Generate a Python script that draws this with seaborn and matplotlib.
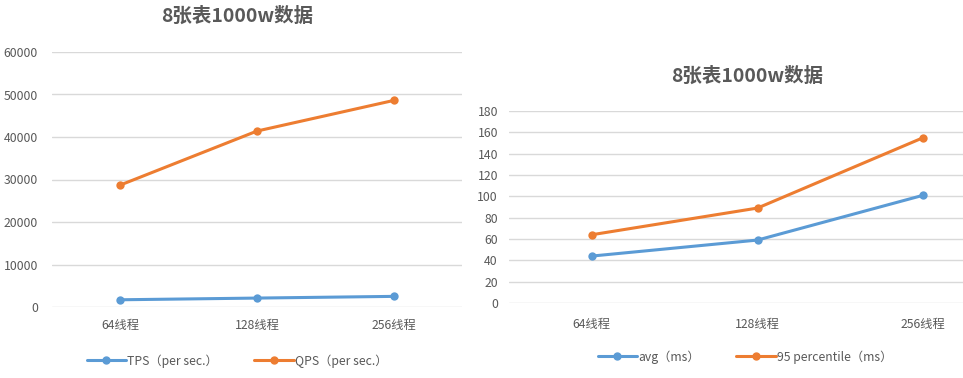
import pandas as pd
import matplotlib
matplotlib.use('Agg')
import matplotlib.pyplot as plt
import seaborn as sns

# data
threads = ['64线程', '128线程', '256线程']
tps = [1700, 2100, 2500]
qps = [28700, 41400, 48600]
lat_avg = [44, 59, 101]
lat_p95 = [64, 89, 155]

title = '8张表1000w数据'
labels_left = ['TPS（per sec.）', 'QPS（per sec.）']
labels_right = ['avg（ms）', '95 percentile（ms）']

blue = '#5B9BD5'
orange = '#ED7D31'
grey = '#595959'

sns.set_style('white')
plt.rcParams['font.family'] = ['Noto Sans CJK SC', 'DejaVu Sans']

df_left = pd.DataFrame({
    'pos': list(range(len(threads))) * 2,
    'value': tps + qps,
    'series': [labels_left[0]] * 3 + [labels_left[1]] * 3,
})
df_right = pd.DataFrame({
    'pos': list(range(len(threads))) * 2,
    'value': lat_avg + lat_p95,
    'series': [labels_right[0]] * 3 + [labels_right[1]] * 3,
})

fig = plt.figure(figsize=(9.63, 3.78), dpi=100)
ax1 = fig.add_axes([52 / 963, 71 / 378, 410 / 963, 255 / 378])
ax2 = fig.add_axes([509 / 963, 75 / 378, 497 / 963, 192 / 378])


def draw(ax, df, labels, ymax, step, legend_xy, ypad, xpad):
    sns.lineplot(data=df, x='pos', y='value', hue='series', hue_order=labels,
                 palette=[blue, orange], marker='o', markersize=6,
                 markeredgewidth=0, linewidth=2.2, ax=ax, legend=False)
    ax.set_xlim(-0.5, 2.5)
    ax.set_ylim(0, ymax)
    ax.set_yticks(range(0, ymax + 1, step))
    ax.set_xticks(range(len(threads)))
    ax.set_xticklabels(threads)
    ax.set_xlabel('')
    ax.set_ylabel('')
    ax.grid(axis='y', color='#D9D9D9', linewidth=1)
    ax.set_axisbelow(True)
    for s in ax.spines.values():
        s.set_visible(False)
    ax.tick_params(axis='both', length=0, labelsize=8.8, labelcolor=grey)
    ax.tick_params(axis='x', pad=xpad)
    ax.tick_params(axis='y', pad=ypad)
    handles = [plt.Line2D([], [], color=c, marker='o', markersize=5, linewidth=2.2)
               for c in (blue, orange)]
    fig.legend(handles, labels, loc='center', bbox_to_anchor=legend_xy, ncol=2,
               frameon=False, fontsize=8.8, labelcolor=grey, handlelength=3.2,
               handletextpad=0.1, columnspacing=3)


draw(ax1, df_left, labels_left, 60000, 10000, (237 / 963, 1 - 361 / 378), 10, 9)
draw(ax2, df_right, labels_right, 180, 20, (745 / 963, 1 - 357 / 378), 8, 11)

fig.text(237 / 963, 1 - 16 / 378, title, ha='center', va='center',
         fontsize=14, color=grey, fontweight='bold')
fig.text(747 / 963, 1 - 76 / 378, title, ha='center', va='center',
         fontsize=14, color=grey, fontweight='bold')

fig.savefig('out.png', dpi=100)
